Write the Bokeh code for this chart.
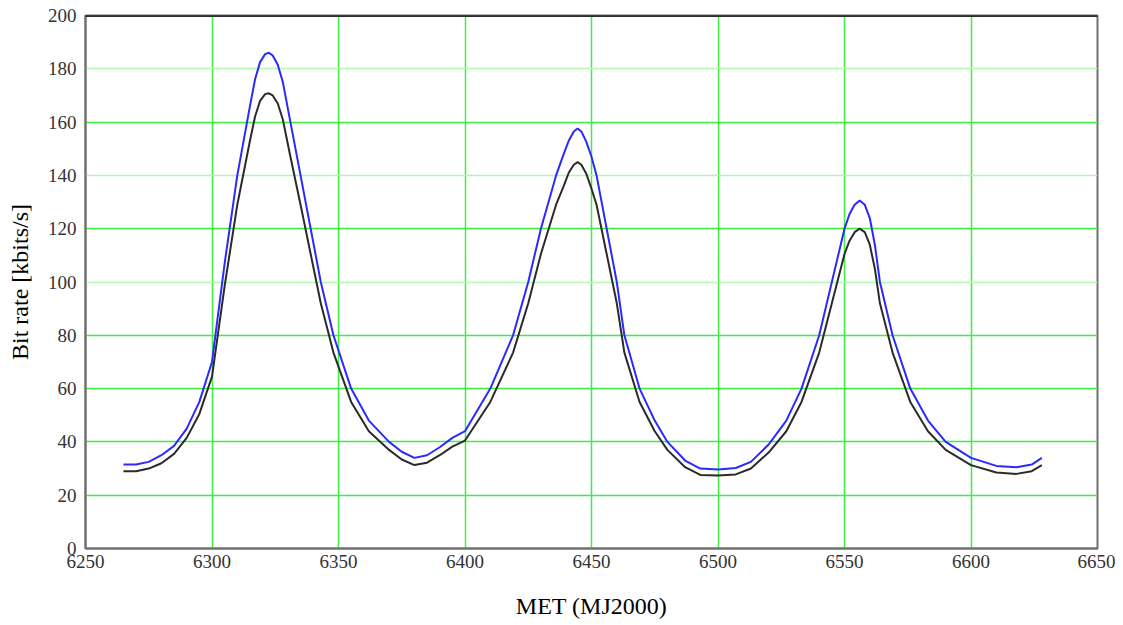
from bokeh.plotting import figure
from bokeh.models import Range1d, FixedTicker, Grid, Span
from bokeh.embed import file_html
from bokeh.resources import INLINE

x_vals = [6265, 6270, 6275, 6280, 6285, 6290, 6295, 6300, 6305, 6310, 6315, 6317, 6319, 6321, 6322.5,
          6324, 6326, 6328, 6331, 6335, 6339, 6343, 6348, 6355, 6362, 6370, 6375, 6380, 6385, 6390,
          6395, 6400, 6410, 6419, 6425, 6430, 6436, 6439, 6441, 6443, 6444.5, 6446, 6448, 6450, 6452,
          6456, 6460, 6463, 6469, 6475, 6480, 6487, 6493, 6500, 6507, 6513, 6520, 6527, 6533, 6540,
          6545, 6550, 6552, 6554, 6556, 6558, 6560, 6562, 6564, 6569, 6576, 6583, 6590, 6600, 6610,
          6618, 6624, 6628]

blue_rate = [31.5, 31.5, 32.5, 35, 38.5, 45, 55, 70, 107, 140, 166, 176, 182.5, 185.5, 186,
             185, 181.5, 175, 160, 140, 120, 100, 80, 60, 48, 40, 36.3, 34, 35, 38,
             41.5, 44, 60, 80, 100, 120, 140, 148, 153, 156.5, 157.6, 156.5, 152.5, 147, 140,
             120, 100, 80, 60, 48, 40, 33, 30, 29.6, 30.2, 32.5, 39, 48, 60, 80,
             100, 120, 125.5, 129, 130.6, 129, 124, 114, 100, 80, 60, 48, 40, 34, 31,
             30.5, 31.5, 34]

black_rate = [29, 29, 30, 32, 35.5, 41.5, 50.5, 64.5, 98.5, 129, 153, 162, 168, 170.5, 170.8,
              170, 167, 161, 147, 129, 110.5, 92, 73.5, 55, 44, 37, 33.4, 31.3, 32.2, 35,
              38.2, 40.5, 55, 73.5, 92, 110.5, 129, 136, 141, 144, 145, 144, 140.5, 135, 129,
              110.5, 92, 73.5, 55, 44, 37, 30.5, 27.6, 27.4, 27.8, 30, 36, 44, 55, 73.5,
              92, 110.5, 115.5, 118.7, 120, 118.7, 114, 105, 92, 73.5, 55, 44, 37, 31.3, 28.5,
              28, 29, 31.3]

x_ticks = [6250, 6300, 6350, 6400, 6450, 6500, 6550, 6600, 6650]
y_ticks = [0, 20, 40, 60, 80, 100, 120, 140, 160, 180, 200]
y_grid_bright = [20, 40, 60, 80, 120, 160]
y_grid_light = [100, 140, 180]
x_grid = [6300, 6350, 6400, 6450, 6500, 6550, 6600]
x_title = "MET (MJ2000)"
y_title = "Bit rate [kbits/s]"

FONT = "Liberation Serif"

p = figure(width=1115, height=625, output_backend="svg", toolbar_location=None,
           x_range=Range1d(6250, 6650), y_range=Range1d(0, 200),
           min_border_left=85, min_border_right=18, min_border_top=15, min_border_bottom=77)
p.xgrid.visible = False
p.ygrid.visible = False

p.add_layout(Grid(dimension=0, ticker=FixedTicker(ticks=x_grid), grid_line_color="#3fee3f", grid_line_width=1.5))
p.add_layout(Grid(dimension=1, ticker=FixedTicker(ticks=y_grid_bright), grid_line_color="#3fee3f", grid_line_width=1.5))
p.add_layout(Grid(dimension=1, ticker=FixedTicker(ticks=y_grid_light), grid_line_color="#b4f6b4", grid_line_width=1.5))

p.line(x_vals, black_rate, line_color="#2a2a2a", line_width=2)
p.line(x_vals, blue_rate, line_color="#2a2aff", line_width=2)

p.outline_line_color = "#707070"
p.outline_line_width = 2
p.add_layout(Span(location=200, dimension="width", line_color="black", line_width=2.5))

for ax in (p.xaxis[0], p.yaxis[0]):
    ax.axis_line_color = "#707070"
    ax.axis_line_width = 2
    ax.major_tick_line_color = None
    ax.minor_tick_line_color = None
    ax.major_tick_out = 0
    ax.major_tick_in = 0
    ax.minor_tick_out = 0
    ax.minor_tick_in = 0
    ax.major_label_text_font = FONT
    ax.major_label_text_font_size = "19px"
    ax.major_label_text_color = "#333333"
    ax.axis_label_text_font = FONT
    ax.axis_label_text_font_size = "24px"
    ax.axis_label_text_font_style = "normal"
    ax.axis_label_text_color = "black"

p.xaxis.ticker = FixedTicker(ticks=x_ticks)
p.yaxis.ticker = FixedTicker(ticks=y_ticks)
p.yaxis.axis_label = y_title
p.xaxis.axis_label = x_title
p.yaxis.axis_label_standoff = 12
p.yaxis.major_label_standoff = 9
p.xaxis.major_label_standoff = 6
p.xaxis.axis_label_standoff = 22

open("out.html", "w").write(file_html(p, INLINE))
